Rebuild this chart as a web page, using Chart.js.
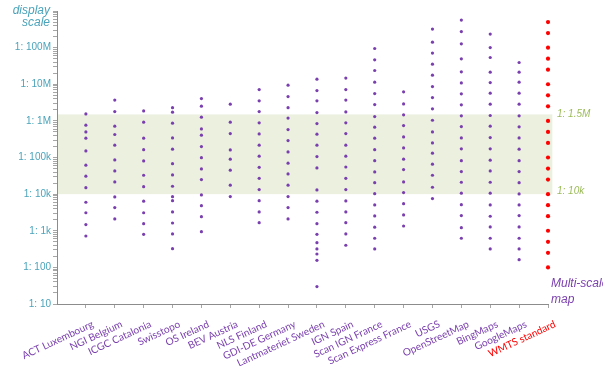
<!DOCTYPE html>
<html>
<head>
<meta charset="utf-8">
<script src="https://cdn.jsdelivr.net/npm/chart.js@4"></script>
<style>
  html, body { margin: 0; padding: 0; background: #fff; }
</style>
</head>
<body>
<canvas id="scalesChart" width="603" height="366"></canvas>
<script>
// Providers on the x axis
const categories = [
  'ACT Luxembourg', 'NGI Belgium', 'ICGC Catalonia', 'Swisstopo', 'OS Ireland',
  'BEV Austria', 'NLS Finland', 'GDI-DE Germany', 'Lantmateriet Sweden', 'IGN Spain',
  'Scan IGN France', 'Scan Express France', 'USGS', 'OpenStreetMap', 'BingMaps',
  'GoogleMaps', 'WMTS standard'
];

// Display scales (1 : n) offered by each provider
const actLuxembourg = [1550000, 764000, 500000, 337000, 151000, 61600, 31000, 15000, 6000, 3100, 1470, 720];
const ngiBelgium = [3700000, 1790000, 716000, 424000, 217000, 86000, 43000, 21600, 8400, 4300, 2100];
const icgcCatalonia = [1870000, 922000, 337000, 164000, 80700, 32800, 16000, 6400, 3100, 1560, 800];
const swisstopo = [2300000, 1730000, 865000, 343000, 169000, 68000, 33500, 16400, 8500, 6640, 3260, 1630, 820, 324];
const osIreland = [4070000, 2520000, 1260000, 604000, 406000, 199000, 99000, 48800, 24900, 9500, 4850, 2430, 945];
const bevAustria = [2860000, 922000, 450000, 161000, 89800, 45000, 17500, 8550];
const nlsFinland = [7170000, 3520000, 1790000, 882000, 441000, 217000, 109000, 54000, 27000, 13300, 6640, 3260, 1665];
const gdiGermany = [9450000, 4610000, 2300000, 1190000, 578000, 290000, 142000, 69800, 35600, 17500, 8550, 4300, 2100];
const lantmateriet = [13800000, 6730000, 3520000, 1690000, 844000, 433000, 217000, 106000, 52000, 13000, 6400, 3200, 1560, 800, 473, 318, 232, 156, 30];
const ignSpain = [14700000, 7170000, 3700000, 1760000, 882000, 450000, 217000, 109000, 55000, 27000, 13300, 6520, 3260, 1665, 820, 402];
const scanIgnFrance = [94500000, 46400000, 23700000, 11400000, 5570000, 2790000, 1310000, 673000, 337000, 164000, 82000, 40400, 20600, 10300, 5070, 2540, 1250, 624, 318];
const scanExpressFrance = [6200000, 2910000, 1460000, 745000, 365000, 183000, 89800, 46700, 21500, 11000, 5500, 2700, 1350];
const usgs = [320000000, 141000000, 70800000, 35400000, 17700000, 8650000, 4330000, 2130000, 1040000, 500000, 250000, 131000, 65600, 32800, 15400, 7540];
const openStreetMap = [564000000, 275000000, 127000000, 49400000, 21800000, 10900000, 5470000, 2740000, 1370000, 699000, 343000, 172000, 82000, 41200, 21100, 10600, 5160, 2590, 1215, 624];
const bingMaps = [234000000, 100600000, 53700000, 21400000, 11100000, 5710000, 2860000, 1400000, 716000, 350000, 172000, 84400, 43000, 21100, 10600, 5070, 2490, 1270, 624, 318];
const googleMaps = [39200000, 21400000, 11400000, 5710000, 2860000, 1370000, 686000, 343000, 169000, 82000, 41200, 20600, 10100, 5070, 2590, 1270, 624, 318, 162];
const wmtsStandard = [500000000, 250000000, 100000000, 50000000, 25000000, 10000000, 5000000, 2500000, 1000000, 500000, 250000, 100000, 50000, 25000, 10000, 5000, 2500, 1000, 500, 250, 100];

// y axis
const majorTicks = [10, 100, 1000, 10000, 100000, 1000000, 10000000, 100000000];
const tickLabels = ['1: 10', '1: 100', '1: 1k', '1: 10k', '1: 100k', '1: 1M', '1: 10M', '1: 100M'];

// shaded "multi-scale map" range
const bandBottom = 10000;
const bandTop = 1500000;

const providers = [
  actLuxembourg, ngiBelgium, icgcCatalonia, swisstopo, osIreland, bevAustria,
  nlsFinland, gdiGermany, lantmateriet, ignSpain, scanIgnFrance, scanExpressFrance,
  usgs, openStreetMap, bingMaps, googleMaps
];

const purplePoints = [];
providers.forEach((list, i) => list.forEach(v => purplePoints.push({ x: i, y: v })));
const redPoints = wmtsStandard.map(v => ({ x: categories.length - 1, y: v }));

// all log ticks 1..9 per decade, labels only on the majors
const yTicks = [];
majorTicks.forEach(d => { for (let m = 1; m < 10; m++) yTicks.push(d * m); });
yTicks.push(1000000000);

const PURPLE = '#7a3fae';
const RED = '#ff0000';
const TEAL = '#4aa3ba';
const GREEN = '#9bbb59';

const extras = {
  id: 'extras',
  beforeDatasetsDraw(chart) {
    const { ctx, chartArea, scales: { x, y } } = chart;
    const top = y.getPixelForValue(bandTop);
    const bottom = y.getPixelForValue(bandBottom);
    const right = x.getPixelForValue(categories.length - 1 + 0.15);
    ctx.save();
    ctx.fillStyle = '#ebf0df';
    ctx.fillRect(chartArea.left + 1, top, right - chartArea.left - 1, bottom - top);
    ctx.restore();
  },
  afterDraw(chart) {
    const { ctx, scales: { y } } = chart;
    ctx.save();
    ctx.textBaseline = 'middle';

    ctx.font = 'italic 12px "Liberation Sans"';
    ctx.fillStyle = TEAL;
    ctx.textAlign = 'right';
    ctx.fillText('display', 50, 11);
    ctx.fillText('scale', 50, 23);

    ctx.font = 'italic 10px "Liberation Sans"';
    ctx.fillStyle = GREEN;
    ctx.textAlign = 'left';
    ctx.fillText('1: 1.5M', 557, y.getPixelForValue(bandTop));
    ctx.fillText('1: 10k', 557, y.getPixelForValue(bandBottom) - 3);

    ctx.font = 'italic 12px "Liberation Sans"';
    ctx.fillStyle = PURPLE;
    ctx.fillText('Multi-scale', 551, 284);
    ctx.fillText('map', 551, 300);
    ctx.restore();
  }
};

new Chart(document.getElementById('scalesChart'), {
  type: 'scatter',
  data: {
    datasets: [
      { data: purplePoints, backgroundColor: PURPLE, pointRadius: 1.6, borderWidth: 0, clip: false },
      { data: redPoints, backgroundColor: RED, pointRadius: 2.1, borderWidth: 0, clip: false }
    ]
  },
  options: {
    responsive: false,
    animation: false,
    devicePixelRatio: 1,
    layout: { padding: { top: 11, right: 55, left: 0, bottom: 0 } },
    plugins: {
      legend: { display: false },
      tooltip: { enabled: false }
    },
    scales: {
      x: {
        type: 'linear',
        min: -1,
        max: categories.length - 1,
        afterBuildTicks: s => { s.ticks = categories.map((c, i) => ({ value: i })); },
        afterFit: s => { s.height = 62; },
        grid: { display: true, drawOnChartArea: false, tickLength: 4, color: '#a6a6a6' },
        border: { color: '#8c8c8c' },
        ticks: {
          autoSkip: false,
          maxRotation: 25,
          minRotation: 25,
          padding: 10,
          labelOffset: 7,
          font: { family: 'Lato', size: 10.2 },
          color: c => (c.tick && c.tick.value === categories.length - 1 ? RED : PURPLE),
          callback: v => categories[v] || ''
        }
      },
      y: {
        type: 'logarithmic',
        min: 10,
        max: 1000000000,
        afterBuildTicks: s => { s.ticks = yTicks.map(v => ({ value: v })); },
        afterFit: s => { s.width = 57; },
        grid: { display: true, drawOnChartArea: false, tickLength: 4, color: '#a6a6a6' },
        border: { color: '#8c8c8c' },
        ticks: {
          autoSkip: false,
          padding: 2,
          font: { family: 'Liberation Sans', size: 10 },
          color: TEAL,
          callback: v => {
            const i = majorTicks.indexOf(v);
            return i >= 0 ? tickLabels[i] : '';
          }
        }
      }
    }
  },
  plugins: [extras]
});
</script>
</body>
</html>
